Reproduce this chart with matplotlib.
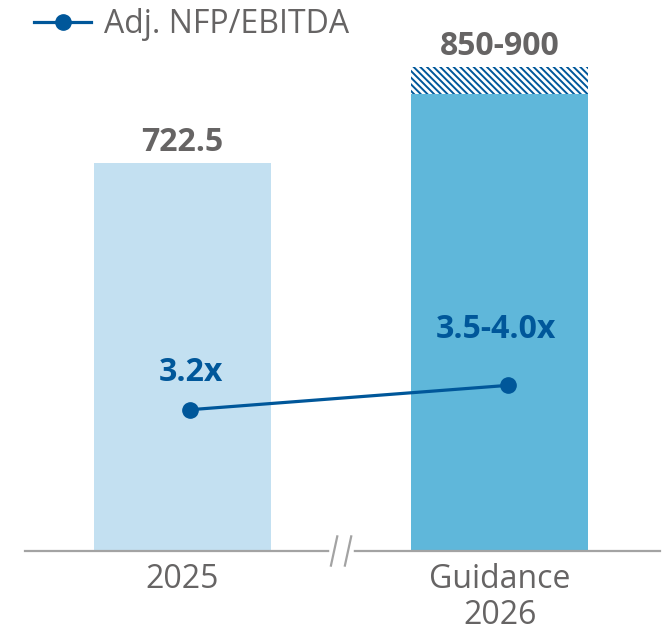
"""Adj. NFP/EBITDA bar chart with leverage line."""

import matplotlib.pyplot as plt
from matplotlib.lines import Line2D

plt.rcParams["font.family"] = ["Open Sans", "DejaVu Sans"]
plt.rcParams["hatch.linewidth"] = 1.4

categories = ["2025", "Guidance\n2026"]
ebitda_low = [722.5, 850]
ebitda_high = [722.5, 900]
bar_labels = ["722.5", "850-900"]
leverage = [3.2, 3.75]
leverage_labels = ["3.2x", "3.5-4.0x"]

GREY = "#666464"
NAVY = "#00579a"
bar_colors = ["#c3e0f1", "#5fb7da"]
FS = 23

fig = plt.figure(figsize=(6.69, 6.35), dpi=100)
ax = fig.add_axes([25 / 669, 84 / 635, 635 / 669, 541 / 635])
x = list(range(len(categories)))

ax.bar(x, ebitda_low, width=0.558, color=bar_colors, linewidth=0, zorder=2)
ranges = [h - l for h, l in zip(ebitda_high, ebitda_low)]
ax.bar(x, ranges, bottom=ebitda_low, width=0.558, facecolor="white",
       edgecolor=NAVY, linewidth=0, hatch="\\\\\\\\\\", zorder=2)

for xi, top, lab in zip(x, ebitda_high, bar_labels):
    ax.annotate(lab, (xi, top), xytext=(0, 3), textcoords="offset points",
                ha="center", va="bottom", fontsize=FS, fontweight="bold", color=GREY)

ax.set_xlim(-0.497, 1.506)
ax.set_ylim(0, 1007)
ax.set_yticks([])
ax.set_xticks(x)
ax.set_xticklabels(categories, fontsize=FS, color=GREY, linespacing=1.12)
ax.tick_params(axis="x", length=0, pad=9)
for s in ["top", "left", "right"]:
    ax.spines[s].set_visible(False)
ax.spines["bottom"].set_color("#a3a3a3")
ax.spines["bottom"].set_linewidth(1.6)

# axis break marks
ax.plot([0.47, 0.53], [0, 0], color="white", lw=4, zorder=4, clip_on=False,
        transform=ax.get_xaxis_transform())
for dx in (-0.022, 0.022):
    ax.plot([0.5 + dx - 0.01, 0.5 + dx + 0.01], [-0.027, 0.027], color="#a3a3a3",
            lw=1.6, zorder=5, clip_on=False, transform=ax.get_xaxis_transform())

ax2 = ax.twinx()
ax2.set_ylim(0, 12.25)
ax2.axis("off")
lx = [xi + 0.025 for xi in x]
ax2.plot(lx, leverage, color=NAVY, lw=2.3, marker="o", markersize=11, zorder=5)
offsets = [(0, 15), (-8, 28)]
for xi, yv, lab, off in zip(lx, leverage, leverage_labels, offsets):
    ax2.annotate(lab, (xi, yv), xytext=off, textcoords="offset points",
                 ha="center", va="bottom", fontsize=FS, fontweight="bold", color=NAVY)

handle = Line2D([], [], color=NAVY, lw=2.3, marker="o", markersize=11)
fig.legend([handle], ["Adj. NFP/EBITDA"], loc="upper left", bbox_to_anchor=(0.022, 1.017),
           frameon=False, fontsize=FS, labelcolor=GREY, handlelength=1.8,
           handletextpad=0.38, borderaxespad=0.2)

fig.savefig("out.png", dpi=100)
